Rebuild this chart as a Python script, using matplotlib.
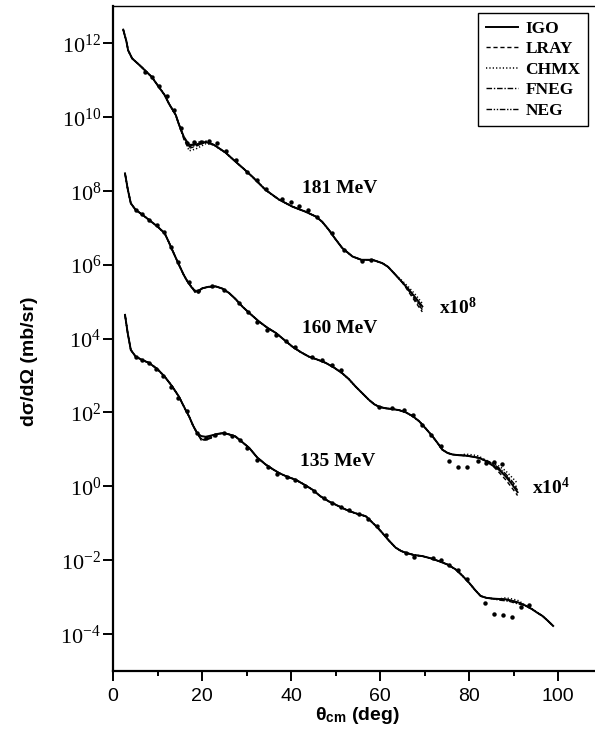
import numpy as np
import matplotlib
matplotlib.use("Agg")
import matplotlib.pyplot as plt
from matplotlib.ticker import FixedLocator, FuncFormatter, MultipleLocator

plt.rcParams['mathtext.fontset'] = 'custom'
plt.rcParams['mathtext.rm'] = 'Liberation Serif'
plt.rcParams['mathtext.it'] = 'Liberation Serif:italic'
plt.rcParams['mathtext.bf'] = 'Liberation Serif:bold'
plt.rcParams['mathtext.sf'] = 'Liberation Sans:bold'

# log10 of dsigma/dOmega (mb/sr), unscaled; curves are shifted by the factors below
scale181 = 1e8
scale160 = 1e4
scale135 = 1.0

# ---- 181 MeV ----
ang181 = [2.3, 3.0, 3.4, 4.3, 5.5, 6.4, 7.5, 8.7, 10.0, 11.6, 12.6, 14.1, 14.8, 15.9,
          17.1, 18.6, 20.8, 22.7, 25.3, 27.6, 29.5, 31.3, 34.3, 37.3, 40.3, 43.3,
          45.6, 47.0, 48.5, 49.8, 51.5, 53.8, 55.8, 58.3, 60.5, 61.8, 63.5, 65.0,
          66.5, 68.0, 69.5]
igo181 = [4.36, 4.05, 3.80, 3.58, 3.45, 3.35, 3.22, 3.08, 2.86, 2.59, 2.35, 2.05, 1.80, 1.46,
          1.24, 1.25, 1.32, 1.24, 1.03, 0.78, 0.58, 0.38, 0.02, -0.24, -0.43, -0.57,
          -0.70, -0.84, -1.06, -1.28, -1.55, -1.78, -1.87, -1.87, -1.96, -2.06, -2.28, -2.48,
          -2.68, -2.90, -3.13]
lray181 = {15.9: 1.40, 17.1: 1.15, 18.6: 1.20, 66.5: -2.75, 68.0: -3.02, 69.5: -3.28}
chmx181 = {15.9: 1.43, 17.1: 1.08, 18.6: 1.13, 20.8: 1.27, 65.0: -2.44, 66.5: -2.62,
           68.0: -2.82, 69.5: -3.05}
fneg181 = {17.1: 1.18, 18.6: 1.30, 20.8: 1.35, 66.5: -2.72, 68.0: -2.97, 69.5: -3.22}
neg181 = {17.1: 1.20, 18.6: 1.22, 68.0: -2.93, 69.5: -3.18}
exp_ang181 = [7.1, 8.7, 10.3, 12.2, 13.7, 15.2, 16.6, 18.2, 19.8, 21.6, 23.4, 25.5, 27.6,
              30.2, 32.4, 34.3, 38.0, 39.9, 41.8, 43.9, 45.9, 49.3, 51.9, 56.0, 57.9]
exp_val181 = [3.22, 3.08, 2.83, 2.56, 2.18, 1.69, 1.30, 1.32, 1.33, 1.35, 1.28, 1.08, 0.83,
              0.51, 0.29, 0.06, -0.22, -0.31, -0.41, -0.52, -0.72, -1.15, -1.60, -1.90, -1.87]

# ---- 160 MeV ----
ang160 = [2.7, 3.3, 4.0, 5.1, 6.5, 8.1, 10.0, 11.6, 12.5, 13.3, 14.8, 15.9, 16.7, 17.7,
          18.6, 19.3, 20.1, 21.5, 23.1, 24.6, 26.1, 27.6, 29.1, 31.0, 32.8, 34.7, 36.6,
          38.5, 40.3, 42.2, 44.0, 45.9, 47.8, 49.7, 51.5, 53.0, 54.5, 56.0, 57.5, 58.7,
          59.8, 61.3, 62.8, 64.3, 65.8, 67.3, 68.8, 70.3, 71.8, 73.0, 74.0, 75.2, 76.3,
          77.8, 79.3, 80.8, 82.2, 83.7, 85.2, 86.7, 88.2, 89.5, 90.9]
igo160 = [4.47, 4.05, 3.66, 3.48, 3.36, 3.21, 3.03, 2.85, 2.62, 2.40, 2.00, 1.72, 1.55, 1.38,
          1.27, 1.30, 1.36, 1.40, 1.41, 1.35, 1.23, 1.06, 0.86, 0.65, 0.46, 0.29, 0.15,
          -0.04, -0.22, -0.37, -0.49, -0.57, -0.66, -0.79, -0.94, -1.10, -1.30, -1.48, -1.66, -1.78,
          -1.85, -1.89, -1.91, -1.94, -2.00, -2.10, -2.24, -2.44, -2.65, -2.84, -3.01, -3.10, -3.14,
          -3.16, -3.17, -3.20, -3.23, -3.31, -3.43, -3.55, -3.73, -3.92, -4.16]
lray160 = {18.6: 1.22, 19.3: 1.24, 86.7: -3.62, 88.2: -3.82, 89.5: -4.02, 90.9: -4.25}
chmx160 = {18.6: 1.30, 79.3: -3.13, 80.8: -3.15, 82.2: -3.18, 85.2: -3.37, 86.7: -3.45,
           88.2: -3.58, 89.5: -3.74, 90.9: -3.92}
fneg160 = {18.6: 1.24, 83.7: -3.28, 85.2: -3.38, 86.7: -3.50, 88.2: -3.66, 89.5: -3.84,
           90.9: -4.05}
neg160 = {85.2: -3.40, 86.7: -3.52, 88.2: -3.69, 89.5: -3.88, 90.9: -4.10}
exp_ang160 = [5.1, 6.6, 8.2, 9.8, 11.4, 13.0, 14.6, 17.1, 19.0, 22.3, 24.9, 28.3, 30.4, 32.4,
              34.7, 36.6, 38.8, 41.0, 44.8, 47.0, 49.3, 51.2, 59.8, 62.8, 65.4, 67.3, 69.5,
              71.4, 73.6, 75.5, 77.6, 79.6, 81.9, 83.7, 85.6, 87.5]
exp_val160 = [3.48, 3.37, 3.22, 3.06, 2.88, 2.47, 2.06, 1.54, 1.28, 1.41, 1.32, 0.96, 0.72, 0.46,
              0.24, 0.10, -0.08, -0.22, -0.49, -0.58, -0.71, -0.85, -1.85, -1.88, -1.93, -2.06, -2.33,
              -2.60, -2.92, -3.31, -3.47, -3.49, -3.32, -3.37, -3.35, -3.39]

# ---- 135 MeV ----
ang135 = [2.7, 3.3, 4.0, 5.1, 6.5, 8.1, 10.0, 11.6, 13.2, 14.8, 16.3, 17.1, 18.0, 18.9,
          19.8, 20.8, 22.3, 23.6, 24.9, 26.2, 27.5, 29.0, 30.6, 32.4, 34.3, 35.8, 37.3,
          39.1, 41.0, 42.9, 44.8, 46.6, 48.5, 50.4, 52.3, 54.0, 55.3, 56.8, 58.0, 59.3,
          60.5, 62.0, 63.5, 64.7, 65.8, 67.6, 69.5, 71.4, 73.3, 75.2, 77.0, 78.5, 80.0,
          81.3, 82.6, 83.9, 85.2, 86.7, 88.2, 89.7, 91.2, 92.7, 94.2, 95.3, 96.5, 97.7, 98.9]
igo135 = [4.64, 4.15, 3.69, 3.51, 3.42, 3.34, 3.17, 2.97, 2.72, 2.43, 2.07, 1.89, 1.64, 1.44,
          1.36, 1.34, 1.38, 1.42, 1.44, 1.40, 1.35, 1.20, 1.04, 0.78, 0.59, 0.47, 0.36,
          0.26, 0.18, 0.05, -0.09, -0.27, -0.41, -0.52, -0.63, -0.71, -0.76, -0.81, -0.95, -1.10,
          -1.26, -1.47, -1.66, -1.75, -1.80, -1.86, -1.89, -1.95, -2.03, -2.12, -2.25, -2.42, -2.61,
          -2.80, -2.97, -3.02, -3.04, -3.05, -3.06, -3.10, -3.15, -3.23, -3.33, -3.42, -3.51, -3.64, -3.78]
lray135 = {19.8: 1.27, 20.8: 1.25, 22.3: 1.33}
chmx135 = {19.8: 1.30, 20.8: 1.27, 88.2: -3.02, 89.7: -3.05, 91.2: -3.10}
fneg135 = {19.8: 1.25, 20.8: 1.26, 22.3: 1.31, 89.7: -3.14, 91.2: -3.19}
neg135 = {19.8: 1.28, 20.8: 1.26, 86.7: -3.08, 88.2: -3.10, 89.7: -3.13}
exp_ang135 = [5.1, 6.6, 8.1, 9.7, 11.3, 13.0, 14.7, 16.7, 18.9, 20.8, 22.9, 24.9, 26.8, 28.5,
              30.2, 32.4, 34.9, 36.9, 39.2, 41.0, 43.1, 45.2, 47.3, 49.3, 51.2, 53.0, 55.3,
              57.2, 59.4, 61.4, 65.8, 67.6, 71.8, 73.6, 75.5, 77.6, 79.6, 83.5, 85.6, 87.6,
              89.6, 91.6, 93.5]
exp_val135 = [3.51, 3.41, 3.34, 3.18, 2.99, 2.70, 2.40, 2.03, 1.44, 1.30, 1.40, 1.44, 1.37, 1.25,
              1.04, 0.72, 0.51, 0.34, 0.25, 0.16, 0.02, -0.14, -0.32, -0.45, -0.56, -0.63, -0.74,
              -0.88, -1.08, -1.31, -1.80, -1.91, -1.94, -2.00, -2.12, -2.27, -2.52, -3.15, -3.45, -3.49,
              -3.53, -3.26, -3.20]

model_names = ['IGO', 'LRAY', 'CHMX', 'FNEG', 'NEG']
model_styles = {
    'IGO': dict(linestyle='-', lw=1.4),
    'LRAY': dict(linestyle=(0, (3.0, 2.0)), lw=1.0),
    'CHMX': dict(linestyle=(0, (0.8, 1.4)), lw=1.1),
    'FNEG': dict(linestyle=(0, (4.0, 1.3, 1.0, 1.3)), lw=1.0),
    'NEG': dict(linestyle=(0, (4.0, 1.2, 1.0, 1.2, 1.0, 1.2)), lw=1.0),
}


def model_curve(ang, base, over):
    y = list(base)
    for a, v in over.items():
        y[ang.index(a)] = v
    return np.array(y)


sets = [
    (ang181, igo181, [lray181, chmx181, fneg181, neg181], exp_ang181, exp_val181, scale181),
    (ang160, igo160, [lray160, chmx160, fneg160, neg160], exp_ang160, exp_val160, scale160),
    (ang135, igo135, [lray135, chmx135, fneg135, neg135], exp_ang135, exp_val135, scale135),
]

fig = plt.figure(figsize=(5.95, 7.39), dpi=100)
ax = fig.add_axes([113 / 595, 68 / 739, 482 / 595, 665 / 739])

for k, (ang, igo, others, ea, ev, sc) in enumerate(sets):
    curves = [np.array(igo)] + [model_curve(ang, igo, o) for o in others]
    for name, yy in zip(model_names, curves):
        ax.plot(ang, 10 ** yy * sc, color='black', label=name if k == 0 else None,
                **model_styles[name])
    ax.plot(ea, 10 ** np.array(ev) * sc, 'o', color='black', ms=3.2, mec='none')

ax.set_yscale('log')
ax.set_xlim(0, 108.3)
ax.set_ylim(1e-5, 1e13)

ax.yaxis.set_major_locator(FixedLocator([10.0 ** e for e in range(-4, 13, 2)]))
ax.yaxis.set_minor_locator(FixedLocator([]))
ax.yaxis.set_major_formatter(FuncFormatter(
    lambda v, p: r'$\mathrm{10^{%d}}$' % int(round(np.log10(v)))))
ax.xaxis.set_major_locator(MultipleLocator(20))
ax.xaxis.set_minor_locator(MultipleLocator(10))

ax.tick_params(axis='y', which='major', direction='out', length=7.5, width=1.4, pad=1,
               labelsize=16)
ax.tick_params(axis='x', which='major', direction='out', length=7, width=1.4, pad=5,
               labelsize=14)
ax.tick_params(axis='x', which='minor', direction='out', length=3.5, width=1.4)
for lab in ax.get_xticklabels():
    lab.set_fontfamily('Liberation Sans')

ax.spines['right'].set_visible(False)
ax.spines['left'].set_linewidth(1.6)
ax.spines['bottom'].set_linewidth(1.6)
ax.spines['top'].set_linewidth(1.0)

# energy labels and scale factors
lab_kw = dict(fontsize=14, fontweight='bold', family='Liberation Serif', va='baseline')
ax.text(42.5, 10 ** 7.93, '181 MeV', **lab_kw)
ax.text(42.5, 10 ** 4.15, '160 MeV', **lab_kw)
ax.text(42.1, 10 ** 0.54, '135 MeV', **lab_kw)
ax.text(73.3, 10 ** 4.66, r'$\mathbf{x10^{8}}$', fontsize=14, va='baseline')
ax.text(94.2, 10 ** -0.2, r'$\mathbf{x10^{4}}$', fontsize=14, va='baseline')

fig.text(30 / 595, 1 - 361 / 739, 'dσ/dΩ (mb/sr)', rotation=90, ha='center', va='center',
         fontsize=14, fontweight='bold', family='Liberation Sans')
fig.text(357 / 595, 1 - 720 / 739, r'θ$_{\mathsf{cm}}$ (deg)', ha='center', va='baseline',
         fontsize=14, fontweight='bold', family='Liberation Sans')

leg = ax.legend(loc='upper right', bbox_to_anchor=(0.986, 0.99), borderaxespad=0,
                prop={'family': 'Liberation Serif', 'weight': 'bold', 'size': 12.5},
                handlelength=1.9, handletextpad=0.4, labelspacing=0.25, borderpad=0.45,
                fancybox=False, framealpha=1)
leg.get_frame().set_edgecolor('black')
leg.get_frame().set_linewidth(1.0)

fig.savefig('out.png', dpi=100)
